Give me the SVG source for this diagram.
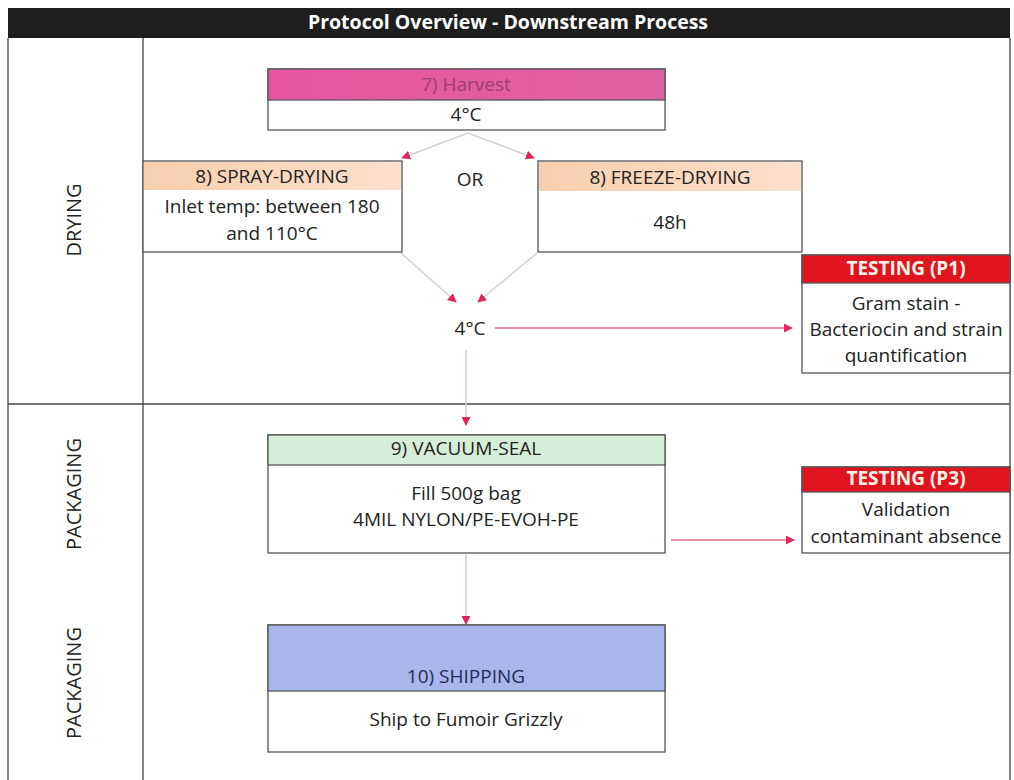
<svg xmlns="http://www.w3.org/2000/svg" width="1014" height="780" viewBox="0 0 1014 780">
<style>
text{font-family:"Open Sans","Liberation Sans",Arial,sans-serif;font-size:19px;fill:#222;text-anchor:middle;dominant-baseline:middle}
.box{fill:#fff;stroke:#555;stroke-width:1.3}
.hdr{stroke:#555;stroke-width:1.3}
.grid{stroke:#444;stroke-width:1.3;fill:none}
.lane{font-size:20px}
.test{font-weight:bold;fill:#fff3e6;font-size:19px}
.ln{fill:none;stroke:#d9d0d3;stroke-width:1.6}
.lr{fill:none;stroke:#ec6a8a;stroke-width:1.4}
</style>
<defs>
<marker id="ah" viewBox="0 0 10 10" refX="9" refY="5" markerWidth="9" markerHeight="9" markerUnits="userSpaceOnUse" orient="auto"><path d="M0,0L10,5L0,10z" fill="#e3245a"/></marker>
<linearGradient id="pk" x1="0" x2="1"><stop offset="0" stop-color="#e7569f"/><stop offset="1" stop-color="#e0619f"/></linearGradient>
<linearGradient id="pe" x1="0" x2="1"><stop offset="0" stop-color="#f8cfae"/><stop offset="1" stop-color="#fbe0cc"/></linearGradient>
</defs>
<g id="frame">
<rect x="8" y="8" width="1002" height="30" fill="#1e1e1e"/>
<text x="508" y="24" style="font-weight:bold;fill:#fff;font-size:19.5px">Protocol Overview - Downstream Process</text>
<line class="grid" x1="8" y1="38" x2="8" y2="780"/>
<line class="grid" x1="1010" y1="38" x2="1010" y2="780"/>
<line class="grid" x1="143" y1="38" x2="143" y2="780"/>
<line class="grid" x1="8" y1="404" x2="1010" y2="404"/>
<text class="lane" transform="translate(76,220) rotate(-90)">DRYING</text>
<text class="lane" transform="translate(76,494) rotate(-90)">PACKAGING</text>
<text class="lane" transform="translate(76,683) rotate(-90)">PACKAGING</text>
</g>
<g id="connectors">
<path class="ln" d="M468,133L402,158" marker-end="url(#ah)"/>
<path class="ln" d="M468,133L534,158" marker-end="url(#ah)"/>
<path class="ln" d="M401,253L456,302" marker-end="url(#ah)"/>
<path class="ln" d="M537,253L478,302" marker-end="url(#ah)"/>
<path class="lr" d="M495,328L792,328" marker-end="url(#ah)"/>
<path class="ln" d="M466,350L466,425" marker-end="url(#ah)"/>
<path class="lr" d="M671,540L794,540" marker-end="url(#ah)"/>
<path class="ln" d="M466,554L466,624" marker-end="url(#ah)"/>
</g>
<g id="harvest">
<rect class="box" x="268" y="69" width="397" height="61"/>
<rect class="hdr" x="268" y="69" width="397" height="31" fill="url(#pk)"/>
<text x="466" y="86" style="fill:#9a4070">7) Harvest</text>
<text x="466" y="116">4°C</text>
</g>
<g id="spray">
<rect class="box" x="143" y="161" width="259" height="91"/>
<rect x="144" y="162" width="257" height="28" fill="url(#pe)"/>
<text x="272" y="178">8) SPRAY-DRYING</text>
<text x="272" y="208">Inlet temp: between 180</text>
<text x="272" y="235">and 110°C</text>
</g>
<g id="or"><text x="470" y="181">OR</text></g>
<g id="freeze">
<rect class="box" x="538" y="161" width="264" height="91"/>
<rect x="539" y="162" width="262" height="29" fill="url(#pe)"/>
<text x="670" y="179">8) FREEZE-DRYING</text>
<text x="670" y="224">48h</text>
</g>
<g id="cold"><text x="470" y="330">4°C</text></g>
<g id="testp1">
<rect class="box" x="802" y="255" width="208" height="118"/>
<rect class="hdr" x="802" y="255" width="208" height="28" fill="#e0141f"/>
<text class="test" x="906" y="270">TESTING (P1)</text>
<text x="906" y="305">Gram stain -</text>
<text x="906" y="331">Bacteriocin and strain</text>
<text x="906" y="357">quantification</text>
</g>
<g id="vacuum">
<rect class="box" x="268" y="435" width="397" height="118"/>
<rect class="hdr" x="268" y="435" width="397" height="30" fill="#d6eed7"/>
<text x="466" y="450">9) VACUUM-SEAL</text>
<text x="466" y="495">Fill 500g bag</text>
<text x="466" y="521">4MIL NYLON/PE-EVOH-PE</text>
</g>
<g id="testp3">
<rect class="box" x="802" y="467" width="208" height="86"/>
<rect class="hdr" x="802" y="467" width="208" height="25" fill="#e0141f"/>
<text class="test" x="906" y="480">TESTING (P3)</text>
<text x="906" y="511">Validation</text>
<text x="906" y="538">contaminant absence</text>
</g>
<g id="shipping">
<rect class="box" x="268" y="625" width="397" height="127"/>
<rect class="hdr" x="268" y="625" width="397" height="66" fill="#a8b6ec"/>
<text x="466" y="678" style="fill:#1f2b55">10) SHIPPING</text>
<text x="466" y="721">Ship to Fumoir Grizzly</text>
</g>
</svg>
